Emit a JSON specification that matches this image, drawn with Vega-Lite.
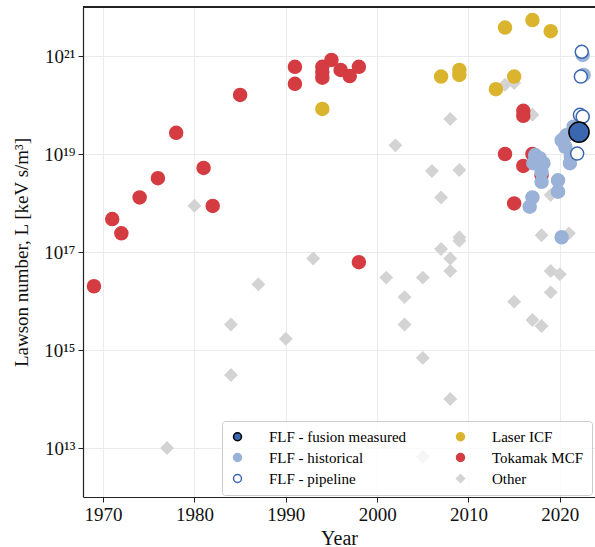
{
  "$schema": "https://vega.github.io/schema/vega-lite/v6.json",
  "width": 512,
  "height": 490,
  "autosize": {"type": "none"},
  "padding": {"left": 83, "top": 7, "right": 0, "bottom": 50},
  "background": "white",
  "config": {
    "view": {"stroke": null},
    "font": "Liberation Serif",
    "axis": {
      "labelFont": "Liberation Serif",
      "titleFont": "Liberation Serif",
      "labelColor": "#111111",
      "titleColor": "#111111",
      "domainColor": "#222222",
      "domainWidth": 1.2,
      "tickColor": "#222222",
      "tickSize": 5,
      "tickWidth": 1,
      "gridColor": "#ebebeb",
      "gridWidth": 1,
      "titleFontWeight": "normal",
      "labelFontSize": 19,
      "titleFontSize": 20
    },
    "legend": {
      "labelFont": "Liberation Serif",
      "labelFontSize": 15,
      "labelColor": "#000000",
      "labelLimit": 260,
      "symbolSize": 64,
      "symbolStrokeWidth": 1.5,
      "symbolOpacity": 1
    }
  },
  "data": {
    "values": [
      {"year": 1977, "L": 1.0e13, "cat": "Other"},
      {"year": 1980, "L": 8.8e17, "cat": "Other"},
      {"year": 1984, "L": 3.3e15, "cat": "Other"},
      {"year": 1984, "L": 3.1e14, "cat": "Other"},
      {"year": 1987, "L": 2.2e16, "cat": "Other"},
      {"year": 1990, "L": 1.7e15, "cat": "Other"},
      {"year": 1993, "L": 7.4e16, "cat": "Other"},
      {"year": 2001, "L": 3.0e16, "cat": "Other"},
      {"year": 2002, "L": 1.5e19, "cat": "Other"},
      {"year": 2003, "L": 1.2e16, "cat": "Other"},
      {"year": 2003, "L": 3.3e15, "cat": "Other"},
      {"year": 2005, "L": 3.0e16, "cat": "Other"},
      {"year": 2005, "L": 6.9e14, "cat": "Other"},
      {"year": 2005, "L": 6.6e12, "cat": "Other"},
      {"year": 2006, "L": 4.5e18, "cat": "Other"},
      {"year": 2007, "L": 1.3e18, "cat": "Other"},
      {"year": 2007, "L": 1.15e17, "cat": "Other"},
      {"year": 2008, "L": 7.4e16, "cat": "Other"},
      {"year": 2008, "L": 4.1e16, "cat": "Other"},
      {"year": 2008, "L": 5.2e19, "cat": "Other"},
      {"year": 2008, "L": 1.0e14, "cat": "Other"},
      {"year": 2009, "L": 4.7e18, "cat": "Other"},
      {"year": 2009, "L": 2.0e17, "cat": "Other"},
      {"year": 2009, "L": 1.7e17, "cat": "Other"},
      {"year": 2014, "L": 2.6e20, "cat": "Other"},
      {"year": 2015, "L": 2.8e20, "cat": "Other"},
      {"year": 2015, "L": 9.7e15, "cat": "Other"},
      {"year": 2017, "L": 6.3e19, "cat": "Other"},
      {"year": 2017, "L": 4.1e15, "cat": "Other"},
      {"year": 2018, "L": 3.1e15, "cat": "Other"},
      {"year": 2018, "L": 2.2e17, "cat": "Other"},
      {"year": 2019, "L": 1.45e18, "cat": "Other"},
      {"year": 2019, "L": 1.5e16, "cat": "Other"},
      {"year": 2019, "L": 4.1e16, "cat": "Other"},
      {"year": 2020, "L": 3.5e16, "cat": "Other"},
      {"year": 2021, "L": 2.4e17, "cat": "Other"},

      {"year": 1969, "L": 2.0e16, "cat": "Tokamak MCF"},
      {"year": 1971, "L": 4.7e17, "cat": "Tokamak MCF"},
      {"year": 1972, "L": 2.4e17, "cat": "Tokamak MCF"},
      {"year": 1974, "L": 1.3e18, "cat": "Tokamak MCF"},
      {"year": 1976, "L": 3.2e18, "cat": "Tokamak MCF"},
      {"year": 1978, "L": 2.7e19, "cat": "Tokamak MCF"},
      {"year": 1981, "L": 5.2e18, "cat": "Tokamak MCF"},
      {"year": 1982, "L": 8.7e17, "cat": "Tokamak MCF"},
      {"year": 1985, "L": 1.6e20, "cat": "Tokamak MCF"},
      {"year": 1991, "L": 6.0e20, "cat": "Tokamak MCF"},
      {"year": 1991, "L": 2.7e20, "cat": "Tokamak MCF"},
      {"year": 1994, "L": 6.0e20, "cat": "Tokamak MCF"},
      {"year": 1994, "L": 4.7e20, "cat": "Tokamak MCF"},
      {"year": 1994, "L": 3.6e20, "cat": "Tokamak MCF"},
      {"year": 1995, "L": 8.3e20, "cat": "Tokamak MCF"},
      {"year": 1996, "L": 5.2e20, "cat": "Tokamak MCF"},
      {"year": 1997, "L": 3.9e20, "cat": "Tokamak MCF"},
      {"year": 1998, "L": 6.0e20, "cat": "Tokamak MCF"},
      {"year": 1998, "L": 6.2e16, "cat": "Tokamak MCF"},
      {"year": 2014, "L": 1.0e19, "cat": "Tokamak MCF"},
      {"year": 2015, "L": 9.8e17, "cat": "Tokamak MCF"},
      {"year": 2016, "L": 7.6e19, "cat": "Tokamak MCF"},
      {"year": 2016, "L": 6.0e19, "cat": "Tokamak MCF"},
      {"year": 2016, "L": 5.7e18, "cat": "Tokamak MCF"},
      {"year": 2017, "L": 1.0e19, "cat": "Tokamak MCF"},
      {"year": 2018, "L": 3.7e18, "cat": "Tokamak MCF"},

      {"year": 1994, "L": 8.3e19, "cat": "Laser ICF"},
      {"year": 2007, "L": 3.8e20, "cat": "Laser ICF"},
      {"year": 2009, "L": 5.2e20, "cat": "Laser ICF"},
      {"year": 2009, "L": 4.1e20, "cat": "Laser ICF"},
      {"year": 2013, "L": 2.1e20, "cat": "Laser ICF"},
      {"year": 2014, "L": 3.8e21, "cat": "Laser ICF"},
      {"year": 2015, "L": 3.8e20, "cat": "Laser ICF"},
      {"year": 2017, "L": 5.4e21, "cat": "Laser ICF"},
      {"year": 2019, "L": 3.2e21, "cat": "Laser ICF"},

      {"year": 2017.3, "L": 9.5e18, "cat": "FLF - historical"},
      {"year": 2017.8, "L": 8.2e18, "cat": "FLF - historical"},
      {"year": 2017.1, "L": 6.5e18, "cat": "FLF - historical"},
      {"year": 2018.2, "L": 6.5e18, "cat": "FLF - historical"},
      {"year": 2018.0, "L": 4.3e18, "cat": "FLF - historical"},
      {"year": 2018.0, "L": 2.7e18, "cat": "FLF - historical"},
      {"year": 2019.8, "L": 2.9e18, "cat": "FLF - historical"},
      {"year": 2019.8, "L": 1.7e18, "cat": "FLF - historical"},
      {"year": 2017.0, "L": 1.3e18, "cat": "FLF - historical"},
      {"year": 2016.7, "L": 8.4e17, "cat": "FLF - historical"},
      {"year": 2020.2, "L": 2.0e17, "cat": "FLF - historical"},
      {"year": 2020.2, "L": 1.9e19, "cat": "FLF - historical"},
      {"year": 2020.7, "L": 2.4e19, "cat": "FLF - historical"},
      {"year": 2020.6, "L": 1.4e19, "cat": "FLF - historical"},
      {"year": 2021.1, "L": 6.5e18, "cat": "FLF - historical"},
      {"year": 2021.2, "L": 9.0e18, "cat": "FLF - historical"},
      {"year": 2021.5, "L": 3.6e19, "cat": "FLF - historical"},
      {"year": 2022.5, "L": 5.7e19, "cat": "FLF - historical"},
      {"year": 2022.5, "L": 1.05e21, "cat": "FLF - historical"},
      {"year": 2022.6, "L": 4.1e20, "cat": "FLF - historical"},

      {"year": 2022.4, "L": 1.22e21, "cat": "FLF - pipeline"},
      {"year": 2022.3, "L": 3.8e20, "cat": "FLF - pipeline"},
      {"year": 2022.2, "L": 6.3e19, "cat": "FLF - pipeline"},
      {"year": 2022.5, "L": 5.8e19, "cat": "FLF - pipeline"},
      {"year": 2021.9, "L": 1.02e19, "cat": "FLF - pipeline"},

      {"year": 2022.1, "L": 2.8e19, "cat": "FLF - fusion measured"}
    ]
  },
  "encoding": {
    "x": {
      "field": "year",
      "type": "quantitative",
      "scale": {"domain": [1967.8, 2023.85], "nice": false, "zero": false},
      "axis": {
        "values": [1970, 1980, 1990, 2000, 2010, 2020],
        "format": "d",
        "labelPadding": 3,
        "labelFlush": false,
        "title": "Year",
        "titlePadding": 4
      }
    },
    "y": {
      "field": "L",
      "type": "quantitative",
      "scale": {"type": "log", "domain": [1e12, 1e22], "nice": false},
      "axis": {
        "values": [1e13, 1e15, 1e17, 1e19, 1e21],
        "labelExpr": "datum.value < 1e14 ? '10¹³' : datum.value < 1e16 ? '10¹⁵' : datum.value < 1e18 ? '10¹⁷' : datum.value < 1e20 ? '10¹⁹' : '10²¹'",
        "labelPadding": 3,
        "labelBaseline": "middle",
        "title": "Lawson number, L [keV s/m³]",
        "titleFontSize": 19,
        "titlePadding": 12
      }
    },
    "fill": {
      "field": "cat",
      "type": "nominal",
      "scale": {
        "domain": ["FLF - fusion measured", "FLF - historical", "FLF - pipeline", "Laser ICF", "Tokamak MCF", "Other"],
        "range": ["#3a67af", "#9ab2d8", "#ffffff", "#dbb42e", "#d43c42", "#d3d3d3"]
      },
      "legend": {
        "title": null,
        "orient": "none",
        "legendX": 139,
        "legendY": 414,
        "columns": 2,
        "direction": "vertical",
        "labelOffset": 24,
        "columnPadding": 46,
        "rowPadding": 5,
        "padding": 8,
        "strokeColor": "#cccccc",
        "fillColor": "rgba(255,255,255,0.8)",
        "cornerRadius": 3
      }
    },
    "stroke": {
      "field": "cat",
      "type": "nominal",
      "scale": {
        "domain": ["FLF - fusion measured", "FLF - historical", "FLF - pipeline", "Laser ICF", "Tokamak MCF", "Other"],
        "range": ["#000000", "#9ab2d8", "#3a67af", "#dbb42e", "#d43c42", "#d3d3d3"]
      }
    },
    "shape": {
      "field": "cat",
      "type": "nominal",
      "scale": {
        "domain": ["FLF - fusion measured", "FLF - historical", "FLF - pipeline", "Laser ICF", "Tokamak MCF", "Other"],
        "range": ["circle", "circle", "circle", "circle", "circle", "diamond"]
      }
    }
  },
  "layer": [
    {
      "transform": [{"filter": "datum.cat == 'Other'"}],
      "mark": {"type": "point", "filled": true, "opacity": 1, "strokeWidth": 1.5, "size": 140}
    },
    {
      "transform": [{"filter": "datum.cat != 'Other' && datum.cat != 'FLF - fusion measured'"}],
      "mark": {"type": "point", "filled": true, "opacity": 1, "strokeWidth": 1.5, "size": 169}
    },
    {
      "transform": [{"filter": "datum.cat == 'FLF - fusion measured'"}],
      "mark": {"type": "point", "filled": true, "opacity": 1, "strokeWidth": 1.5, "size": 408}
    },
    {
      "mark": {"type": "rule", "color": "#222222", "strokeWidth": 1.2},
      "encoding": {
        "x": null,
        "fill": null,
        "stroke": null,
        "shape": null,
        "y": {"datum": 1e22}
      }
    }
  ]
}
